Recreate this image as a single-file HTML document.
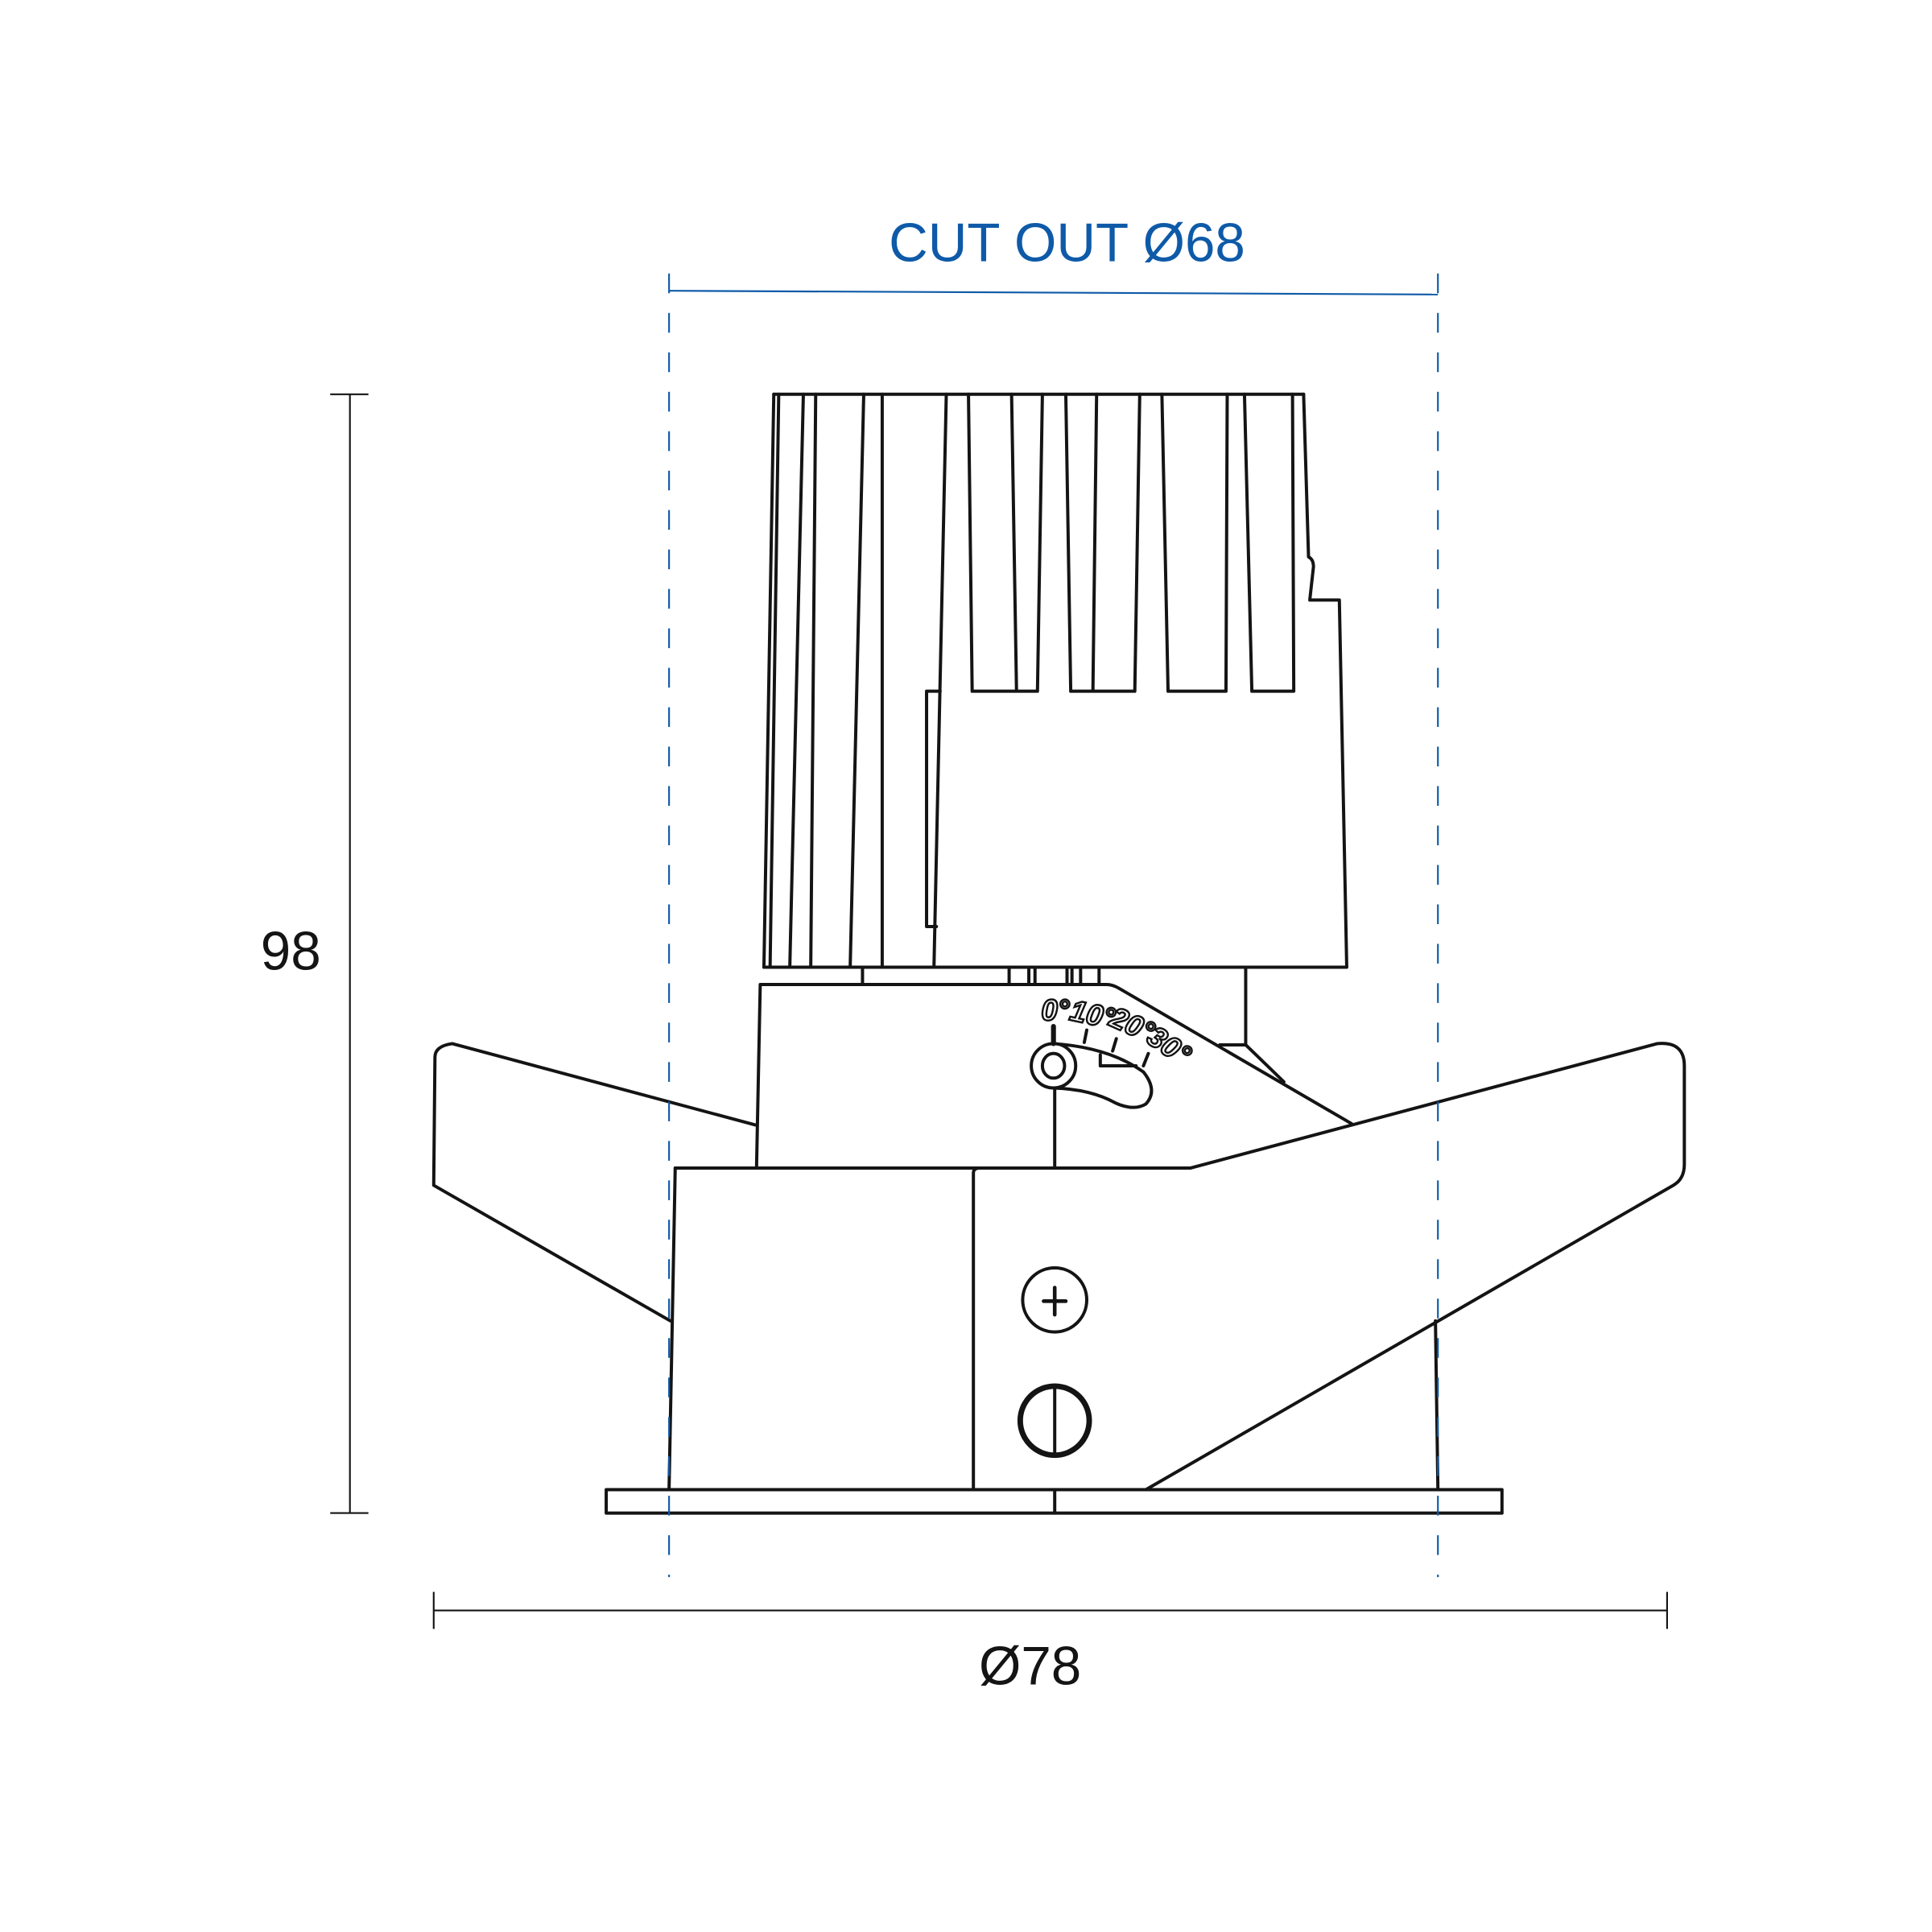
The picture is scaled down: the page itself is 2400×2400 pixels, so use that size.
<!DOCTYPE html>
<html><head><meta charset="utf-8"><style>html,body{margin:0;padding:0;background:#fff}svg{display:block}</style></head>
<body>
<svg width="2400" height="2400" viewBox="0 0 1568 1568" xmlns="http://www.w3.org/2000/svg">
<g fill="none" stroke="#141414" stroke-width="2.6" stroke-linejoin="round" stroke-linecap="round">
<path d="M628,320 L1058,320"/>
<path d="M628,320 L620,785 L1093,785 L1087,487 L1063,487 L1066,460 Q1066,454 1062,452 L1058,320"/>
<path d="M632,320 L625,785 M652,320 L641,785 M662,320 L658,785 M701,320 L690,785 M716,320 L716,785 M768,320 L758,785"/>
<path d="M786,320 L789,561 L842,561 L846,320 M821,320 L825,561"/>
<path d="M865,320 L869,561 L921,561 L925,320 M890,320 L887,561"/>
<path d="M943,320 L948,561 L995,561 L996,320"/>
<path d="M1010,320 L1016,561 L1050,561 L1049,320"/>
<path d="M763,561 L752,561 L752,752 L760,752"/>
<path d="M700,785 L700,799 M819,785 L819,799 M835,785 L835,799 M840,785 L840,799 M866,785 L866,799 M870,785 L870,799 M877,785 L877,799 M892,785 L892,799"/>
<path d="M1011,785 L1011,848 L990,848 M1011,848 L1042,878"/>
<path d="M614,948 L617,799 L898,799 Q903,799 908,802 L1097,912"/>
<path d="M856,884 L856,948"/>
<path d="M548,948 L966,948 L1345,847 Q1367,845 1367,865 L1367,945 Q1367,957 1358,962 L930,1209"/>
<path d="M613,913 L367,847 Q353,849 353,858 L352,962 L544,1072"/>
<path d="M548,948 L543,1209 M790,1209 L790,952 Q790,948 795,948 M1165,1072 L1167,1209"/>
<rect x="492" y="1209" width="727" height="19"/>
<path d="M856,1209 L856,1228"/>
<path d="M855,847 Q900,850 928,870 Q940,885 930,896 Q920,902 905,895 Q885,884 855,883"/>
<circle cx="855" cy="865" r="18" fill="#fff"/>
<ellipse cx="855" cy="865" rx="9" ry="10"/>
<path d="M855,847 L855,833" stroke-width="4"/>
<path d="M893,856 L893,865 L922,865"/>
<path d="M880,846 L882,836 M903,853 L906,843 M928,865 L932,855"/>
<circle cx="856" cy="1055" r="26"/>
<path d="M856,1045 L856,1067 M847,1056 L865,1056" stroke-width="3"/>
<circle cx="856" cy="1153" r="28" stroke-width="4.5"/>
<path d="M856,1126 L856,1180"/>
</g>
<g font-family="Liberation Sans, sans-serif" font-weight="bold" font-style="italic" font-size="24" fill="#fff" stroke="#141414" stroke-width="1.6">
<text x="845" y="828">0°</text>
<text x="869" y="830" transform="rotate(12 880 820)">10°</text>
<text x="901" y="838" transform="rotate(24 915 830)">20°</text>
<text x="932" y="854" transform="rotate(34 945 845)">30°</text>
</g>
<g stroke="#141414" stroke-width="1.4" fill="none">
<path d="M284,320 L284,1228 M268,320 L299,320 M268,1228 L299,1228"/>
<path d="M352,1307 L1353,1307 M352,1292 L352,1322 M1353,1292 L1353,1322"/>
</g>
<g stroke="#0e5aa8" stroke-width="1.4" fill="none">
<path d="M543,236 L1167,239"/>
<path d="M543,222 L543,1280 M1167,222 L1167,1280" stroke-dasharray="16,16"/>
</g>
<g font-family="Liberation Sans, sans-serif" font-size="44" text-anchor="middle">
<text x="866" y="212" fill="#0e5aa8">CUT OUT Ø68</text>
<text x="236" y="787" fill="#141414">98</text>
<text x="836" y="1367" fill="#141414">Ø78</text>
</g>
</svg>
</body></html>
